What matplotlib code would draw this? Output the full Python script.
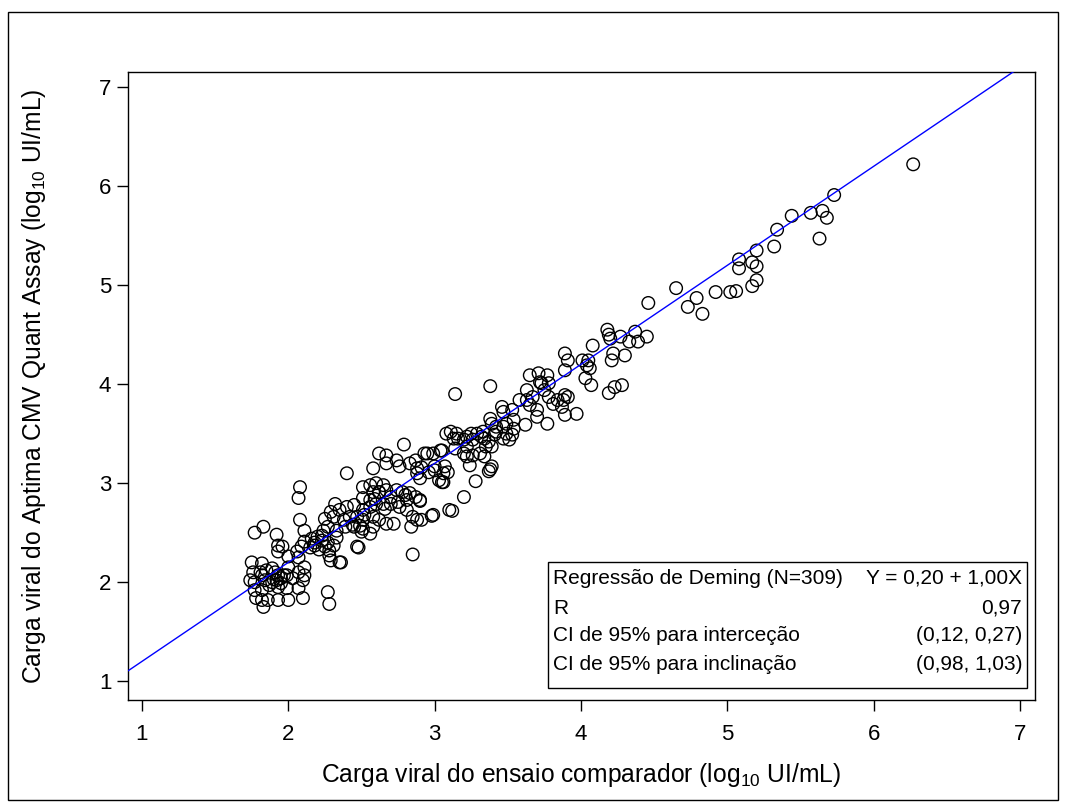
import matplotlib
matplotlib.use("Agg")
import matplotlib.pyplot as plt
from matplotlib.patches import Rectangle

plt.rcParams["font.family"] = ["Liberation Sans", "DejaVu Sans"]
plt.rcParams["mathtext.fontset"] = "custom"
plt.rcParams["mathtext.rm"] = "Liberation Sans"
plt.rcParams["mathtext.default"] = "regular"

# ---------------------------------------------------------------------------
# data (log10 UI/mL)
# ---------------------------------------------------------------------------
comparator = [
    # low cluster
    2.07, 1.77, 1.83, 1.92, 2.08, 2.11, 1.93, 1.93, 1.96, 2.00,
    2.06, 2.09, 2.11, 2.16, 2.20, 2.23, 2.18, 2.25, 2.28, 2.31,
    2.28, 2.29, 2.35, 2.47, 2.50, 2.49, 2.25, 1.75, 1.82, 1.76,
    1.81, 1.85, 1.89, 1.91, 1.93, 1.95, 1.99, 1.92, 1.95, 1.89,
    1.84, 1.77, 1.74, 1.77, 1.82, 1.93, 1.99, 2.03, 2.07, 2.11,
    2.11, 2.10, 2.07, 2.10, 2.00, 1.93, 1.86, 1.82, 1.83, 1.78,
    2.27, 2.28,
    # 2.2 - 3.0
    3.08, 2.79, 2.62, 2.67, 2.67, 2.74, 2.76, 2.58, 2.40, 2.83,
    2.87, 2.93, 3.04, 2.88, 2.88, 2.90, 3.00, 3.06, 3.06, 2.51,
    2.56, 2.60, 2.65, 2.58, 2.62, 2.67, 2.74, 2.78, 2.83, 2.87,
    2.81, 2.90, 2.51, 2.56, 2.60, 2.65, 2.70, 2.76, 2.51, 2.45,
    2.40, 2.32, 2.35, 2.29, 2.31, 2.38, 2.42, 2.47, 2.51, 2.58,
    2.62, 2.67, 2.72, 2.58, 2.51, 2.45, 2.39, 2.33, 2.27, 2.24,
    2.56, 2.85, 2.88, 2.84, 2.99, 2.81,
    # 3.0 - 3.7
    3.38, 3.14, 3.65, 3.71, 3.72, 3.63, 3.58, 3.63, 3.65, 3.70,
    3.70, 3.62, 3.46, 3.47, 3.53, 3.38, 3.39, 3.42, 3.49, 3.54,
    3.54, 3.49, 3.51, 3.47, 3.41, 3.33, 3.34, 3.39, 3.29, 3.25,
    3.26, 3.22, 3.20, 3.15, 3.11, 3.13, 3.14, 3.05, 3.22, 3.26,
    3.31, 3.34, 3.22, 3.20, 3.39, 3.24, 2.99, 3.07, 3.00,
    # 3.7 - 4.5
    4.46, 4.18, 4.19, 4.20, 4.27, 4.37, 4.45, 4.33, 4.39, 4.08,
    3.89, 3.91, 3.89, 4.01, 4.05, 4.04, 4.06, 4.03, 4.07, 4.22,
    4.21, 4.30, 4.19, 4.23, 4.28, 3.77, 3.78, 3.73, 3.75, 3.78,
    3.84, 3.89, 3.91, 3.88, 3.81, 3.87, 3.97, 3.89, 3.77,
    # upper
    5.73, 5.44, 5.57, 5.65, 5.68, 5.63, 5.34, 5.32, 5.20, 5.08,
    5.17, 5.20, 5.08, 5.20, 5.17, 5.06, 5.02, 4.92, 4.79, 4.73,
    4.83, 4.65, 3.67, 6.27,
    # scattered, off the band
    3.28, 3.20, 3.12, 2.98, 2.91, 2.90, 3.38, 3.37, 2.95, 3.09,
    3.05, 3.03, 2.85, 2.48, 2.36, 3.10, 2.08,
    # overlapping circles inside the dense band
    1.90, 1.97, 1.87, 2.18, 2.21, 2.27, 2.15, 2.23, 2.59, 2.62,
    2.70, 2.75, 2.66, 2.80, 2.52, 2.56, 3.32, 3.37, 3.42, 3.47,
    3.35, 3.53, 3.16, 2.96, 2.91, 1.82, 2.00, 2.07, 2.33, 2.44,
]
aptima = [
    2.85, 2.50, 2.56, 2.48, 2.63, 2.52, 2.37, 2.31, 2.36, 2.26,
    2.31, 2.36, 2.41, 2.44, 2.46, 2.42, 2.37, 2.36, 2.32, 2.37,
    2.27, 2.22, 2.20, 2.36, 2.51, 2.57, 2.64, 2.20, 2.19, 2.10,
    2.10, 2.12, 2.14, 2.10, 2.07, 2.04, 2.07, 2.02, 1.99, 2.00,
    2.02, 2.00, 2.02, 1.92, 1.92, 1.95, 1.94, 2.04, 2.10, 2.15,
    2.07, 2.02, 1.94, 1.84, 1.82, 1.82, 1.82, 1.82, 1.75, 1.84,
    1.90, 1.78,
    3.50, 3.39, 3.30, 3.28, 3.20, 3.23, 3.17, 3.15, 3.10, 3.20,
    3.23, 3.30, 3.33, 3.15, 3.10, 3.05, 3.13, 3.10, 3.01, 2.96,
    2.98, 3.00, 2.98, 2.91, 2.91, 2.93, 2.93, 2.91, 2.90, 2.86,
    2.83, 2.83, 2.85, 2.83, 2.79, 2.79, 2.79, 2.76, 2.73, 2.78,
    2.76, 2.79, 2.73, 2.71, 2.66, 2.63, 2.66, 2.66, 2.63, 2.66,
    2.63, 2.59, 2.59, 2.56, 2.54, 2.56, 2.56, 2.52, 2.56, 2.52,
    2.49, 2.66, 2.63, 2.56, 2.68, 2.73,
    3.98, 3.90, 4.09, 4.11, 4.02, 3.94, 3.84, 3.84, 3.79, 3.74,
    3.67, 3.59, 3.77, 3.72, 3.74, 3.65, 3.60, 3.57, 3.60, 3.64,
    3.55, 3.50, 3.44, 3.45, 3.49, 3.52, 3.45, 3.37, 3.50, 3.50,
    3.44, 3.47, 3.44, 3.50, 3.52, 3.45, 3.35, 3.33, 3.37, 3.28,
    3.30, 3.27, 3.27, 3.30, 3.17, 3.18, 3.30, 3.17, 3.17,
    4.82, 4.55, 4.50, 4.46, 4.48, 4.53, 4.48, 4.43, 4.43, 4.39,
    4.31, 4.24, 4.14, 4.24, 4.24, 4.19, 4.16, 4.06, 3.99, 4.31,
    4.24, 4.29, 3.91, 3.97, 3.99, 4.09, 4.01, 4.01, 3.94, 3.87,
    3.84, 3.89, 3.87, 3.84, 3.80, 3.77, 3.70, 3.69, 3.60,
    5.91, 5.70, 5.73, 5.75, 5.68, 5.47, 5.56, 5.39, 5.35, 5.26,
    5.23, 5.19, 5.17, 5.05, 4.99, 4.94, 4.93, 4.93, 4.87, 4.78,
    4.71, 4.97, 3.87, 6.22,
    3.02, 2.86, 2.72, 2.67, 2.63, 2.82, 3.14, 3.12, 3.30, 3.11,
    3.01, 3.03, 2.28, 2.35, 2.20, 2.73, 2.96,
    2.03, 2.07, 1.97, 2.40, 2.33, 2.40, 2.35, 2.47, 2.84, 2.91,
    2.86, 2.81, 2.74, 2.88, 2.68, 2.76, 3.47, 3.42, 3.52, 3.57,
    3.37, 3.49, 3.45, 3.11, 3.16, 2.07, 2.15, 2.25, 2.45, 2.58,
]

# Deming fit and summary shown in the inset table
intercept = 0.20
slope = 1.00
stat_labels = [
    "Regressão de Deming (N=309)",
    "R",
    "CI de 95% para interceção",
    "CI de 95% para inclinação",
]
stat_values = ["Y = 0,20 + 1,00X", "0,97", "(0,12, 0,27)", "(0,98, 1,03)"]

ticks = [1, 2, 3, 4, 5, 6, 7]

# ---------------------------------------------------------------------------
# figure
# ---------------------------------------------------------------------------
fig = plt.figure(figsize=(10.66, 8.09), dpi=100)
fig.patches.append(Rectangle((0.0075, 0.011), 0.985, 0.974, transform=fig.transFigure,
                             fill=False, edgecolor="black", linewidth=1.0))

ax = fig.add_axes([0.120, 0.1347, 0.851, 0.776])
xlim = (0.904, 7.103)
ylim = (0.81, 7.15)

ax.scatter(comparator, aptima, s=82, facecolors="none", edgecolors="black",
           linewidths=1.0, zorder=2)
ax.plot(xlim, [intercept + slope * x for x in xlim], color="blue", linewidth=1.0, zorder=3)

ax.set_xlim(xlim)
ax.set_ylim(ylim)
ax.set_xticks(ticks)
ax.set_yticks(ticks)
ax.tick_params(direction="out", length=8, width=1, labelsize=16)
ax.tick_params(axis="x", pad=9)
ax.tick_params(axis="y", pad=4)
for sp in ax.spines.values():
    sp.set_linewidth(1.0)

ax.set_xlabel("Carga viral do ensaio comparador (log$_{10}$ UI/mL)", fontsize=17.7)
ax.set_ylabel("Carga viral do Aptima CMV Quant Assay (log$_{10}$ UI/mL)", fontsize=17.7)
ax.xaxis.set_label_coords(0.5, -0.097)
ax.yaxis.set_label_coords(-0.088, 0.5)

# inset table with the regression summary
ax.add_patch(Rectangle((0.463, 0.019), 0.528, 0.201, transform=ax.transAxes,
                       fill=False, edgecolor="black", linewidth=1.0, zorder=4))
rows_y = [0.194, 0.1465, 0.102, 0.057]
for lab, val, yy in zip(stat_labels, stat_values, rows_y):
    ax.text(0.4686, yy, lab, transform=ax.transAxes, fontsize=15, va="center", ha="left")
    ax.text(0.9857, yy, val, transform=ax.transAxes, fontsize=15, va="center", ha="right")

fig.savefig("out.png", dpi=100)
